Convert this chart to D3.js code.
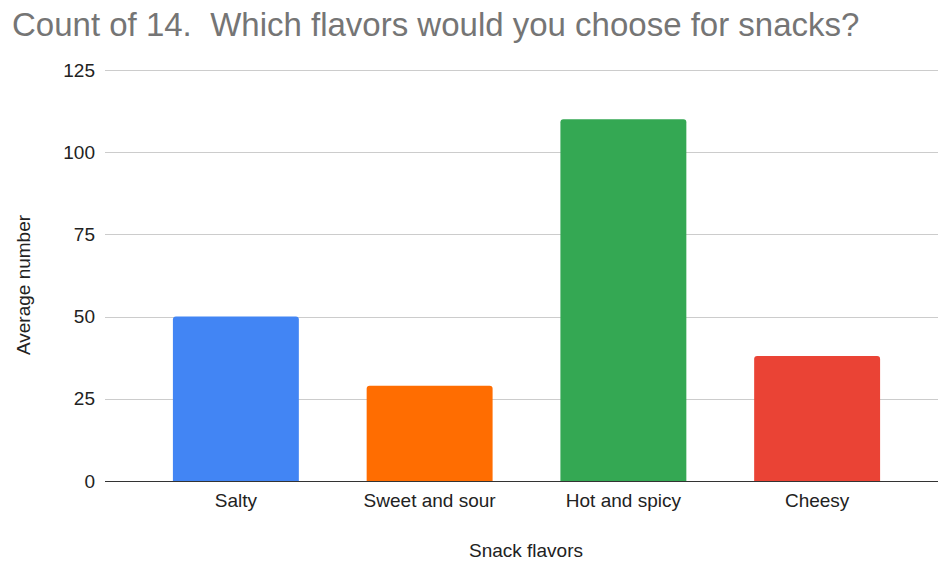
<!DOCTYPE html>
<html>
<head>
<meta charset="utf-8">
<script src="https://cdn.jsdelivr.net/npm/d3@7/dist/d3.min.js"></script>
<style>
  html, body { margin: 0; padding: 0; background: #fff; }
  svg { display: block; font-family: "Liberation Sans", Arial, sans-serif; }
</style>
</head>
<body>
<svg id="chart" width="938" height="562"></svg>
<script>
// Snack flavour survey counts
const categories = ["Salty", "Sweet and sour", "Hot and spicy", "Cheesy"];
const values = [50, 29, 110, 38];
const colors = ["#4285F4", "#FF6D01", "#34A853", "#EA4335"];
const yTicks = [0, 25, 50, 75, 100, 125];

const svg = d3.select("#chart");
const plot = { left: 105, right: 938, top: 70, bottom: 481 };

const y = d3.scaleLinear().domain([0, 125]).range([plot.bottom, plot.top]);
const x = d3.scaleBand()
  .domain(categories)
  .range([139, 914])
  .paddingInner(0.35)
  .paddingOuter(0.175);

// title
svg.append("text")
  .attr("x", 12).attr("y", 36)
  .attr("fill", "#757575")
  .attr("font-size", 33)
  .style("white-space", "pre")
  .text("Count of 14.  Which flavors would you choose for snacks?");

// horizontal gridlines
svg.append("g")
  .selectAll("line")
  .data(yTicks.filter(d => d !== 0))
  .join("line")
  .attr("x1", plot.left).attr("x2", plot.right)
  .attr("y1", d => Math.round(y(d)) + 0.5).attr("y2", d => Math.round(y(d)) + 0.5)
  .attr("stroke", "#cccccc").attr("stroke-width", 1);

// y axis labels
const yAxis = d3.axisLeft(y).tickValues(yTicks).tickSize(0).tickPadding(0);
const gy = svg.append("g").attr("transform", `translate(${plot.left - 10},0)`).call(yAxis);
gy.select(".domain").remove();
gy.selectAll("text")
  .attr("font-size", 19)
  .attr("fill", "#222")
  .attr("font-family", "Liberation Sans, Arial, sans-serif");

// bars with rounded tops
const r = 3;
function barPath(d, i) {
  const x0 = x(categories[i]), w = x.bandwidth();
  const y0 = y(d), y1 = y(0);
  return `M${x0},${y1}V${y0 + r}Q${x0},${y0} ${x0 + r},${y0}H${x0 + w - r}Q${x0 + w},${y0} ${x0 + w},${y0 + r}V${y1}Z`;
}
svg.append("g")
  .selectAll("path")
  .data(values)
  .join("path")
  .attr("d", (d, i) => barPath(d, i))
  .attr("fill", (d, i) => colors[i]);

// baseline
svg.append("line")
  .attr("x1", plot.left).attr("x2", plot.right)
  .attr("y1", y(0) + 0.5).attr("y2", y(0) + 0.5)
  .attr("stroke", "#333").attr("stroke-width", 1);

// x axis labels
const xAxis = d3.axisBottom(x).tickSize(0).tickPadding(0);
const gx = svg.append("g").attr("transform", `translate(0,${plot.bottom + 12})`).call(xAxis);
gx.select(".domain").remove();
gx.selectAll("text")
  .attr("font-size", 19)
  .attr("fill", "#222")
  .attr("font-family", "Liberation Sans, Arial, sans-serif");

// axis titles
svg.append("text")
  .attr("x", 526).attr("y", 557)
  .attr("text-anchor", "middle")
  .attr("font-size", 19)
  .attr("fill", "#222")
  .text("Snack flavors");

svg.append("text")
  .attr("transform", `translate(30,285) rotate(-90)`)
  .attr("text-anchor", "middle")
  .attr("font-size", 19)
  .attr("fill", "#222")
  .text("Average number");
</script>
</body>
</html>
